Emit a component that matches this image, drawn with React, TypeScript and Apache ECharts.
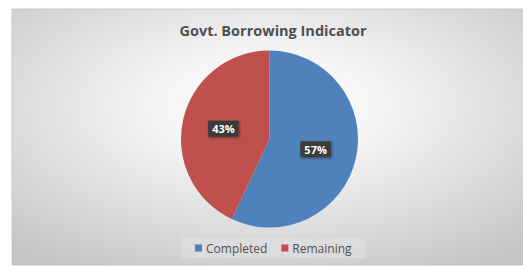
import React, { useEffect, useRef } from "react";
import * as echarts from "echarts";

const categories = ["Completed", "Remaining"];
const values = [57, 43];
const colors = ["#4f81bd", "#c0504d"];
const titleText = "Govt. Borrowing Indicator";

export default function App() {
  const ref = useRef<HTMLDivElement>(null);
  useEffect(() => {
    if (!ref.current) return;
    const chart = echarts.init(ref.current, undefined, { renderer: "svg" });
    const font = "'Open Sans', 'Liberation Sans', sans-serif";
    chart.setOption({
      animation: false,
      graphic: [
        {
          type: "rect",
          z: -10,
          silent: true,
          x: 12,
          y: 9,
          scaleX: 2,
          shape: { x: 0, y: 0, width: 256, height: 256 },
          style: {
            fill: new echarts.graphic.RadialGradient(0.5, 0.38, 0.75, [
              { offset: 0, color: "#ffffff" },
              { offset: 0.3, color: "#f4f4f4" },
              { offset: 1, color: "#c4c4c4" },
            ]),
            stroke: "#bdbdbd",
            lineWidth: 0.5,
          },
        },
      ],
      title: {
        text: titleText,
        left: 268,
        textAlign: "center",
        top: 18,
        textStyle: {
          fontFamily: font,
          fontSize: 14.5,
          fontWeight: "bold",
          color: "#505050",
        },
      },
      legend: {
        data: categories,
        left: 181,
        top: 238,
        width: 176,
        itemWidth: 7,
        itemHeight: 7,
        icon: "rect",
        itemGap: 14,
        padding: [4, 14, 4, 14],
        backgroundColor: "rgba(225,225,225,0.55)",
        textStyle: { fontFamily: font, fontSize: 12, color: "#505050", padding: [0, 0, 0, -1] },
      },
      series: [
        {
          type: "pie",
          center: [269.5, 139],
          radius: 88.5,
          startAngle: 90,
          clockwise: true,
          color: colors,
          data: categories.map((name, i) => ({ name, value: values[i] })),
          label: {
            position: "inside",
            formatter: "{d}%",
            color: "#ffffff",
            fontFamily: font,
            fontWeight: "bold",
            fontSize: 11,
            backgroundColor: "#3a3a3a",
            padding: [3, 4, 2, 4],
            shadowColor: "rgba(0,0,0,0.4)",
            shadowBlur: 3,
            shadowOffsetX: 1,
            shadowOffsetY: 1,
          },
          labelLine: { show: false },
          emphasis: { disabled: true },
        },
      ],
    });
    return () => chart.dispose();
  }, []);
  return (
    <div
      ref={ref}
      style={{ position: "absolute", left: 0, top: 0, width: 523, height: 266 }}
    />
  );
}
